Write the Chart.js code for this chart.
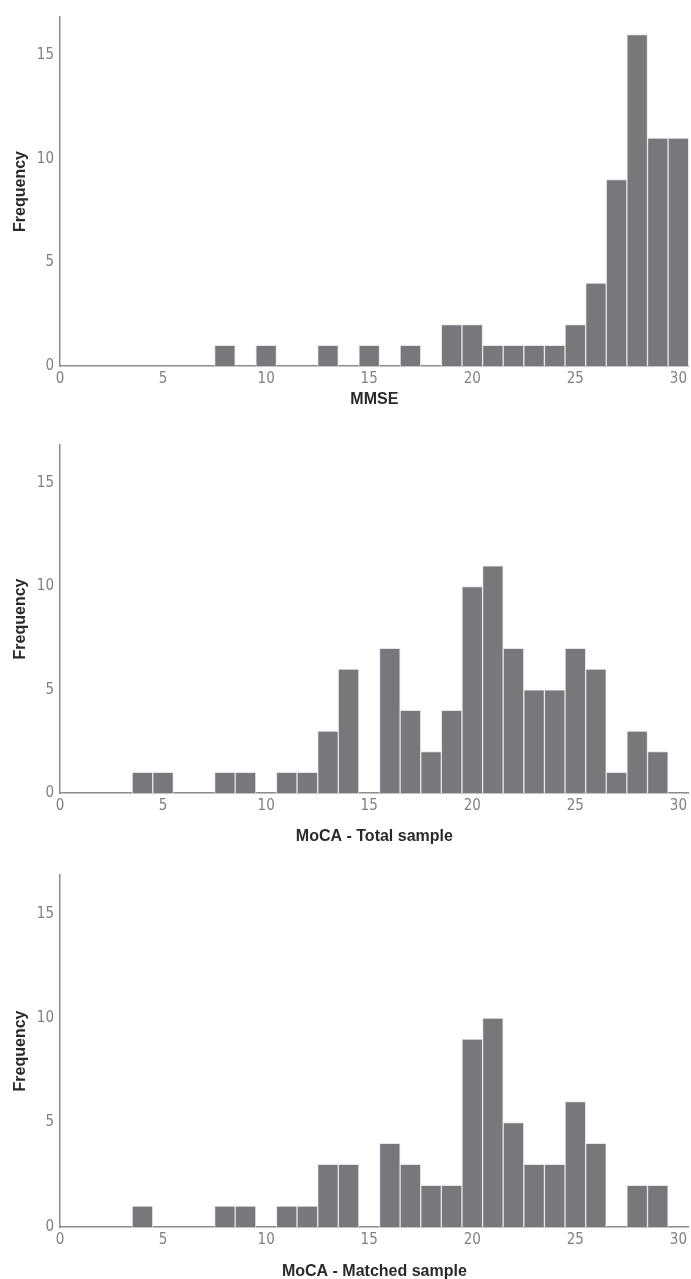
<!DOCTYPE html>
<html>
<head>
<meta charset="utf-8">
<script src="https://cdn.jsdelivr.net/npm/chart.js@4.4.1/dist/chart.umd.min.js"></script>
<style>
  html, body { margin: 0; padding: 0; background: #fff; overflow: hidden; }
  .panel { position: absolute; left: 0; width: 691px; }
</style>
</head>
<body>
<div class="panel" style="top:0px"><canvas id="mmseChart" width="691" height="426"></canvas></div>
<div class="panel" style="top:426px"><canvas id="totalChart" width="691" height="427"></canvas></div>
<div class="panel" style="top:853px"><canvas id="matchedChart" width="691" height="434"></canvas></div>
<script>
// data (score -> frequency)
const mmseScores = [8, 10, 13, 15, 17, 19, 20, 21, 22, 23, 24, 25, 26, 27, 28, 29, 30];
const mmseCounts = [1, 1, 1, 1, 1, 2, 2, 1, 1, 1, 1, 2, 4, 9, 16, 11, 11];

const totalScores = [4, 5, 8, 9, 11, 12, 13, 14, 16, 17, 18, 19, 20, 21, 22, 23, 24, 25, 26, 27, 28, 29];
const totalCounts = [1, 1, 1, 1, 1, 1, 3, 6, 7, 4, 2, 4, 10, 11, 7, 5, 5, 7, 6, 1, 3, 2];

const matchedScores = [4, 8, 9, 11, 12, 13, 14, 16, 17, 18, 19, 20, 21, 22, 23, 24, 25, 26, 28, 29];
const matchedCounts = [1, 1, 1, 1, 1, 3, 3, 4, 3, 2, 2, 9, 10, 5, 3, 3, 6, 4, 2, 2];

const xTicks = [0, 5, 10, 15, 20, 25, 30];
const yTicks = [0, 5, 10, 15];

const barColor = "#78787c";
const axisColor = "#8c8c8c";
const tickFont = { family: "'Liberation Sans Narrow', 'DejaVu Sans Condensed', sans-serif", size: 15 };
const titleFont = { family: "'Liberation Sans', Arial, sans-serif", size: 16, weight: "bold" };

function makeHist(id, scores, counts, title, padTop, titlePadBottom) {
  return new Chart(document.getElementById(id), {
    type: "bar",
    data: {
      datasets: [{
        data: scores.map((s, i) => ({ x: s, y: counts[i] })),
        backgroundColor: barColor,
        borderColor: "#e6e6e6",
        borderWidth: 1,
        borderSkipped: "bottom",
        barPercentage: 1,
        categoryPercentage: 1
      }]
    },
    options: {
      responsive: false,
      animation: false,
      devicePixelRatio: 1,
      layout: { padding: { top: padTop, left: 0, right: -3, bottom: 0 } },
      plugins: { legend: { display: false }, tooltip: { enabled: false } },
      scales: {
        x: {
          type: "linear",
          min: 0,
          max: 30.5,
          offset: false,
          grid: { display: false, drawTicks: false },
          border: { display: true, color: axisColor, width: 1.5 },
          afterBuildTicks: (s) => { s.ticks = xTicks.map(v => ({ value: v })); },
          afterFit: (s) => { s.height = 60; },
          ticks: { color: "#808080", font: tickFont, padding: 4, maxRotation: 0 },
          title: {
            display: true, text: title, color: "#2a2a2a", font: titleFont,
            padding: { top: 0, bottom: titlePadBottom - 2 }
          }
        },
        y: {
          min: 0,
          max: 16.85,
          grid: { display: false, drawTicks: false },
          border: { display: true, color: axisColor, width: 1.5 },
          afterBuildTicks: (s) => { s.ticks = yTicks.map(v => ({ value: v })); },
          afterFit: (s) => { s.width = 60; },
          ticks: { color: "#808080", font: tickFont, padding: 6 },
          title: {
            display: true, text: "Frequency", color: "#2a2a2a", font: titleFont,
            padding: { top: 11, bottom: 0 }
          }
        }
      }
    }
  });
}

makeHist("mmseChart", mmseScores, mmseCounts, "MMSE", 17, 19);
makeHist("totalChart", totalScores, totalCounts, "MoCA - Total sample", 19, 9);
makeHist("matchedChart", matchedScores, matchedCounts, "MoCA - Matched sample", 22, 8);
</script>
</body>
</html>
